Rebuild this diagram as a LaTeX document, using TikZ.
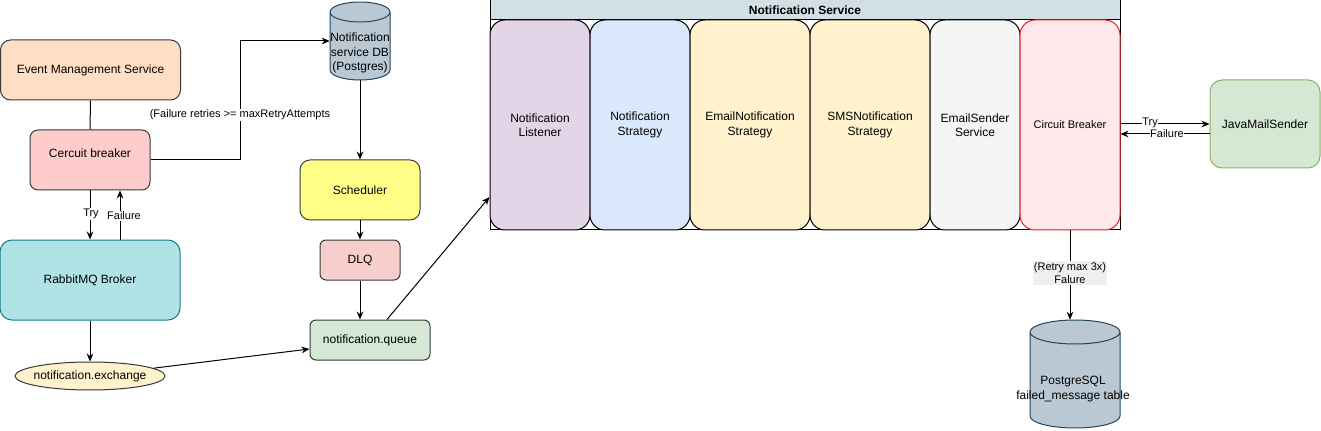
\documentclass[tikz,border=0pt]{standalone}
\usepackage{fontspec}
\setmainfont{Liberation Sans}
\usetikzlibrary{arrows.meta,calc,shapes.geometric}
\definecolor{cDark}{HTML}{36393D}
\definecolor{cEMS}{HTML}{FFDFC3}
\definecolor{cCB}{HTML}{FFCCCC}
\definecolor{cRMQ}{HTML}{B0E3E6}
\definecolor{cRMQs}{HTML}{0E8088}
\definecolor{cYel}{HTML}{FFF2CC}
\definecolor{cSch}{HTML}{FFFF88}
\definecolor{cDLQ}{HTML}{F8CECC}
\definecolor{cQ}{HTML}{D5E8D4}
\definecolor{cDB}{HTML}{BAC8D3}
\definecolor{cDBs}{HTML}{23445D}
\definecolor{cHead}{HTML}{D2E0E6}
\definecolor{cNL}{HTML}{E1D5E7}
\definecolor{cNS}{HTML}{DAE8FC}
\definecolor{cESS}{HTML}{F5F5F5}
\definecolor{cCBK}{HTML}{FFE8EC}
\definecolor{cRed}{HTML}{E02424}
\definecolor{cJMSs}{HTML}{82B366}
\definecolor{cLblBg}{HTML}{EFEFEF}
\begin{document}
\begin{tikzpicture}[x=0.75pt,y=-0.75pt,
  bw/.style={minimum width=#1*0.75pt},
  bh/.style={minimum height=#1*0.75pt},
  box/.style={rectangle, align=center, inner sep=0pt, line width=0.75pt,
    font=\fontsize{9}{10.8}\selectfont},
  txt/.style={align=center, inner sep=0pt, font=\fontsize{9}{10.8}\selectfont},
  lbl/.style={align=center, inner sep=1pt, fill=white, font=\fontsize{8.25}{9.9}\selectfont},
  ln/.style={line width=0.75pt},
  arr/.style={line width=0.75pt, -{Stealth[length=6pt,width=5pt]}},
  child/.style={box, bw=#1, bh=210, rounded corners=11.25pt, draw=black}
]
\useasboundingbox (0,0) rectangle (1321,431);

% left column
\node[box, bw=180, bh=60, fill=cEMS, draw=cDark, rounded corners=7.5pt] (ems) at (90.5,70) {Event Management Service};
\node[box, bw=120, bh=60, fill=cCB, draw=cDark, rounded corners=6pt] (cb) at (90,160) {};
\node[txt] (cbt) at (90,153) {Cercuit breaker};
\node[box, bw=180, bh=80, fill=cRMQ, draw=cRMQs, rounded corners=9pt] (rmq) at (90,280) {RabbitMQ Broker};
\node[ellipse, draw=cDark, fill=cYel, line width=0.75pt, bw=150, bh=28, inner sep=0pt] (ex) at (90,376) {};
\node[txt] (ext) at (90,376) {notification.exchange};

% middle column
\fill[cDB] (330,12) -- (330,70) arc[start angle=180,end angle=360,x radius=22.5pt,y radius=7.5pt]
  -- (390,12) arc[start angle=0,end angle=180,x radius=22.5pt,y radius=7.5pt] -- cycle;
\draw[cDBs, line width=0.75pt] (330,12) -- (330,70) arc[start angle=180,end angle=360,x radius=22.5pt,y radius=7.5pt]
  -- (390,12) arc[start angle=0,end angle=360,x radius=22.5pt,y radius=7.5pt];
\node[inner sep=0pt, bw=60, bh=78] (db) at (360,41) {};
\node[txt] (dbt) at (360,53) {Notification\\service DB\\(Postgres)};

\node[box, bw=120, bh=60, fill=cSch, draw=cDark, rounded corners=7.5pt] (sch) at (360,190) {Scheduler};
\node[box, bw=80, bh=40, fill=cDLQ, draw=cDark, rounded corners=4.5pt] (dlq) at (360,260) {DLQ};
\node[box, bw=120, bh=40, fill=cQ, draw=cDark, rounded corners=4.5pt] (q) at (370,340) {notification.queue};

% container
\fill[white] (490,0) rectangle (1120,230);
\fill[cHead] (490,0) rectangle (1120,20);
\draw[line width=0.75pt] (490,0) rectangle (1120,230);
\draw[line width=0.75pt] (490,20) -- (1120,20);
\node[txt, font=\fontsize{9}{10.8}\selectfont\bfseries] (nst) at (805,10) {Notification Service};

\node[child=100, fill=cNL] (nl) at (540,125) {Notification\\Listener};
\node[child=100, fill=cNS] (nsr) at (640,125) {Notification\\Strategy};
\node[child=120, fill=cYel] (ens) at (750,125) {EmailNotification\\Strategy};
\node[child=120, fill=cYel] (sns) at (870,125) {SMSNotification\\Strategy};
\node[child=90, fill=cESS] (ess) at (975,125) {EmailSender\\Service};
\node[child=100, fill=cCBK, draw=cRed, font=\fontsize{8.25}{9.9}\selectfont] (cbk) at (1070,125) {Circuit Breaker};

\node[box, bw=110, bh=88, fill=cQ, draw=cJMSs, rounded corners=9pt] (jms) at (1265,124) {JavaMailSender};

% PostgreSQL cylinder
\fill[cDB] (1030,332) -- (1030,416) arc[start angle=180,end angle=360,x radius=33.75pt,y radius=9pt]
  -- (1120,332) arc[start angle=0,end angle=180,x radius=33.75pt,y radius=9pt] -- cycle;
\draw[cDBs, line width=0.75pt] (1030,332) -- (1030,416) arc[start angle=180,end angle=360,x radius=33.75pt,y radius=9pt]
  -- (1120,332) arc[start angle=0,end angle=360,x radius=33.75pt,y radius=9pt];
\node[inner sep=0pt, bw=90, bh=108] (pg) at (1075,374) {};
\node[txt] (pgt) at (1073,389) {PostgreSQL\\failed\_message table};

% connectors
\draw[ln] (ems.south) -- (cb.north);
\draw[arr] (cb.east) -- ++(90,0) |- (db.west);
\node[lbl] (fl) at (240,115) {(Failure retries >= maxRetryAttempts};
\draw[arr] (cb.south) -- (rmq.north);
\node[lbl] (tryl) at (91,214) {Try};
\draw[arr] ($(rmq.north)+(30,0)$) -- ($(cb.south)+(30,0)$);
\node[lbl] (faill) at (124,216) {Failure};
\draw[arr] (rmq.south) -- (ex.north);
\draw[arr] (ex) -- ($(q.west)+(0,9)$);
\draw[arr] (db.south) -- (sch.north);
\draw[arr] (sch.south) -- (dlq.north);
\draw[arr] (dlq.south) -- (dlq.south |- q.north);
\draw[arr] ($(q.north)+(17,0)$) -- ($(nl.west)+(0,72)$);
\draw[arr] (cbk.east |- jms.west) -- (jms.west);
\node[lbl, inner sep=0.5pt] (tryr) at (1150,123) {Try};
\draw[arr] ($(jms.west)+(0,10)$) -- ($(cbk.east |- jms.west)+(0,10)$);
\node[lbl, inner sep=0.5pt] (failr) at (1167,134) {Failure};
\draw[arr] (cbk.south) -- (cbk.south |- pg.north);
\node[lbl, fill=cLblBg] (retry) at (1070,273) {(Retry max 3x)\\Falure};
\end{tikzpicture}
\end{document}
